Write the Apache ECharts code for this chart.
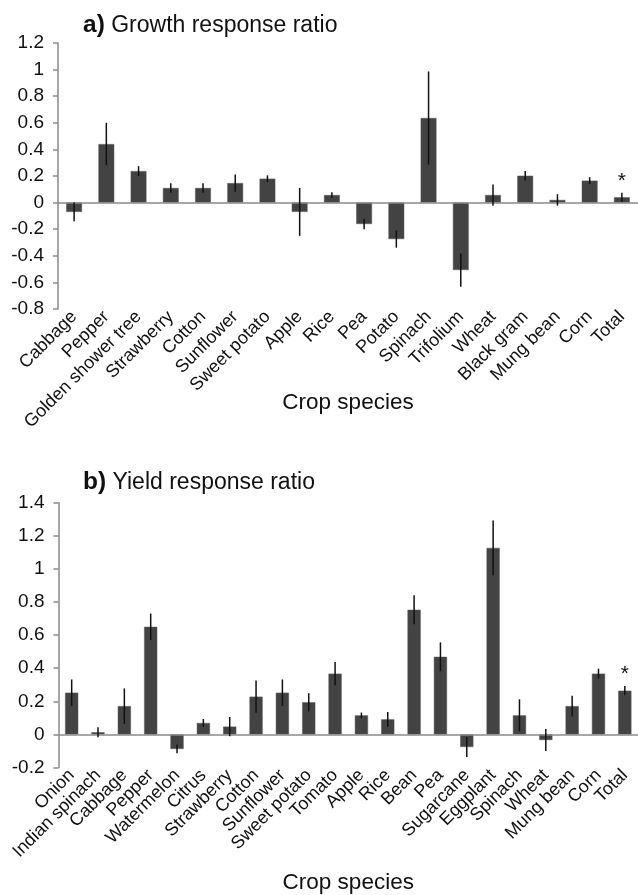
<!DOCTYPE html>
<html>
<head>
<meta charset="utf-8">
<script src="https://cdn.jsdelivr.net/npm/echarts@6/dist/echarts.min.js"></script>
<style>html,body{margin:0;padding:0;background:#fff}#c{width:638px;height:895px}</style>
</head>
<body>
<div id="c"></div>
<script>
const growthCategories = ['Cabbage','Pepper','Golden shower tree','Strawberry','Cotton','Sunflower','Sweet potato','Apple','Rice','Pea','Potato','Spinach','Trifolium','Wheat','Black gram','Mung bean','Corn','Total'];
const growthValues = [-0.07, 0.44, 0.237, 0.11, 0.11, 0.147, 0.18, -0.07, 0.057, -0.161, -0.274, 0.636, -0.507, 0.057, 0.202, 0.02, 0.165, 0.04];
const growthErrors = [0.07, 0.16, 0.037, 0.036, 0.036, 0.065, 0.025, 0.18, 0.02, 0.04, 0.065, 0.35, 0.125, 0.08, 0.036, 0.043, 0.026, 0.035];
const growthMarks = ['','','','','','','','','','','','','','','','','','*'];
const growthTicks = {min: -0.8, max: 1.2, interval: 0.2};

const yieldCategories = ['Onion','Indian spinach','Cabbage','Pepper','Watermelon','Citrus','Strawberry','Cotton','Sunflower','Sweet potato','Tomato','Apple','Rice','Bean','Pea','Sugarcane','Eggplant','Spinach','Wheat','Mung bean','Corn','Total'];
const yieldValues = [0.252, 0.013, 0.171, 0.65, -0.088, 0.069, 0.047, 0.228, 0.252, 0.194, 0.367, 0.115, 0.091, 0.753, 0.469, -0.076, 1.127, 0.115, -0.034, 0.171, 0.367, 0.264];
const yieldErrors = [0.08, 0.03, 0.107, 0.08, 0.026, 0.024, 0.058, 0.097, 0.08, 0.055, 0.07, 0.017, 0.045, 0.088, 0.087, 0.06, 0.165, 0.097, 0.066, 0.063, 0.03, 0.028];
const yieldMarks = ['','','','','','','','','','','','','','','','','','','','','','*'];
const yieldTicks = {min: -0.2, max: 1.4, interval: 0.2};

const FONT = 'Liberation Sans, Arial, sans-serif';
const AXIS_GRAY = '#8a8a8a';

function errData(vals, errs, marks){
  return vals.map((v,i)=>[i, v-errs[i], v+errs[i], marks[i]]);
}
function renderErr(params, api){
  const i = api.value(0);
  const lo = api.coord([i, api.value(1)]);
  const hi = api.coord([i, api.value(2)]);
  const children = [{type:'line', shape:{x1:lo[0], y1:lo[1], x2:hi[0], y2:hi[1]}, style:{stroke:'#111', lineWidth:1.5}}];
  const m = api.value(3);
  if (m && m !== '-') {
    children.push({type:'text', style:{text:m, x:hi[0], y:hi[1]-1, align:'center', verticalAlign:'bottom', font:'21px ' + FONT, fill:'#111'}});
  }
  return {type:'group', children};
}
function xAxisFor(cats, gridIndex, nameGap){
  return {
    type:'category', gridIndex, data:cats,
    axisLine:{show:false}, axisTick:{show:false},
    axisLabel:{rotate:45, interval:0, margin:5, fontSize:18, fontFamily:FONT, color:'#111'},
    name:'Crop species', nameLocation:'middle', nameGap, nameMoveOverlap:false,
    nameTextStyle:{fontSize:22.5, fontFamily:FONT, color:'#111', verticalAlign:'middle'}
  };
}
function yAxisFor(t, gridIndex){
  return {
    type:'value', gridIndex, min:t.min, max:t.max, interval:t.interval,
    splitLine:{show:false},
    axisLine:{show:true, onZero:false, lineStyle:{color:AXIS_GRAY, width:1.5}},
    axisTick:{show:true, length:5, lineStyle:{color:AXIS_GRAY, width:1.5}},
    axisLabel:{fontSize:19, fontFamily:FONT, color:'#111', margin:14}
  };
}
function barSeries(vals, idx, bw){
  return {
    type:'bar', xAxisIndex:idx, yAxisIndex:idx, data:vals, barWidth:bw,
    itemStyle:{color:'#434343', borderColor:'#5a5a5a', borderWidth:0.5},
    markLine:{silent:true, symbol:['none','none'], label:{show:false},
      lineStyle:{color:AXIS_GRAY, type:'solid', width:1.5}, data:[{yAxis:0}]}
  };
}
function errSeries(vals, errs, marks, idx){
  return {type:'custom', xAxisIndex:idx, yAxisIndex:idx, renderItem:renderErr,
    encode:{x:0, y:[1,2]}, data:errData(vals, errs, marks), z:5};
}

const chart = echarts.init(document.getElementById('c'), null, {renderer:'canvas'});
chart.setOption({
  animation:false,
  title:[
    {text:'{b|a)} Growth response ratio', left:78, top:8,
      textStyle:{fontSize:23, fontWeight:'normal', fontFamily:FONT, color:'#111',
        rich:{b:{fontSize:24.5, fontWeight:'bold', fontFamily:FONT, color:'#111'}}}},
    {text:'{b|b)} Yield response ratio', left:78, top:465,
      textStyle:{fontSize:23, fontWeight:'normal', fontFamily:FONT, color:'#111',
        rich:{b:{fontSize:24.5, fontWeight:'bold', fontFamily:FONT, color:'#111'}}}}
  ],
  grid:[
    {left:58, right:-4, top:43, height:266},
    {left:58.5, right:-2.5, top:502.7, height:265}
  ],
  xAxis:[xAxisFor(growthCategories, 0, 94), xAxisFor(yieldCategories, 1, 115)],
  yAxis:[yAxisFor(growthTicks, 0), yAxisFor(yieldTicks, 1)],
  series:[
    barSeries(growthValues, 0, '49%'),
    errSeries(growthValues, growthErrors, growthMarks, 0),
    barSeries(yieldValues, 1, '50%'),
    errSeries(yieldValues, yieldErrors, yieldMarks, 1)
  ]
});
</script>
</body>
</html>
